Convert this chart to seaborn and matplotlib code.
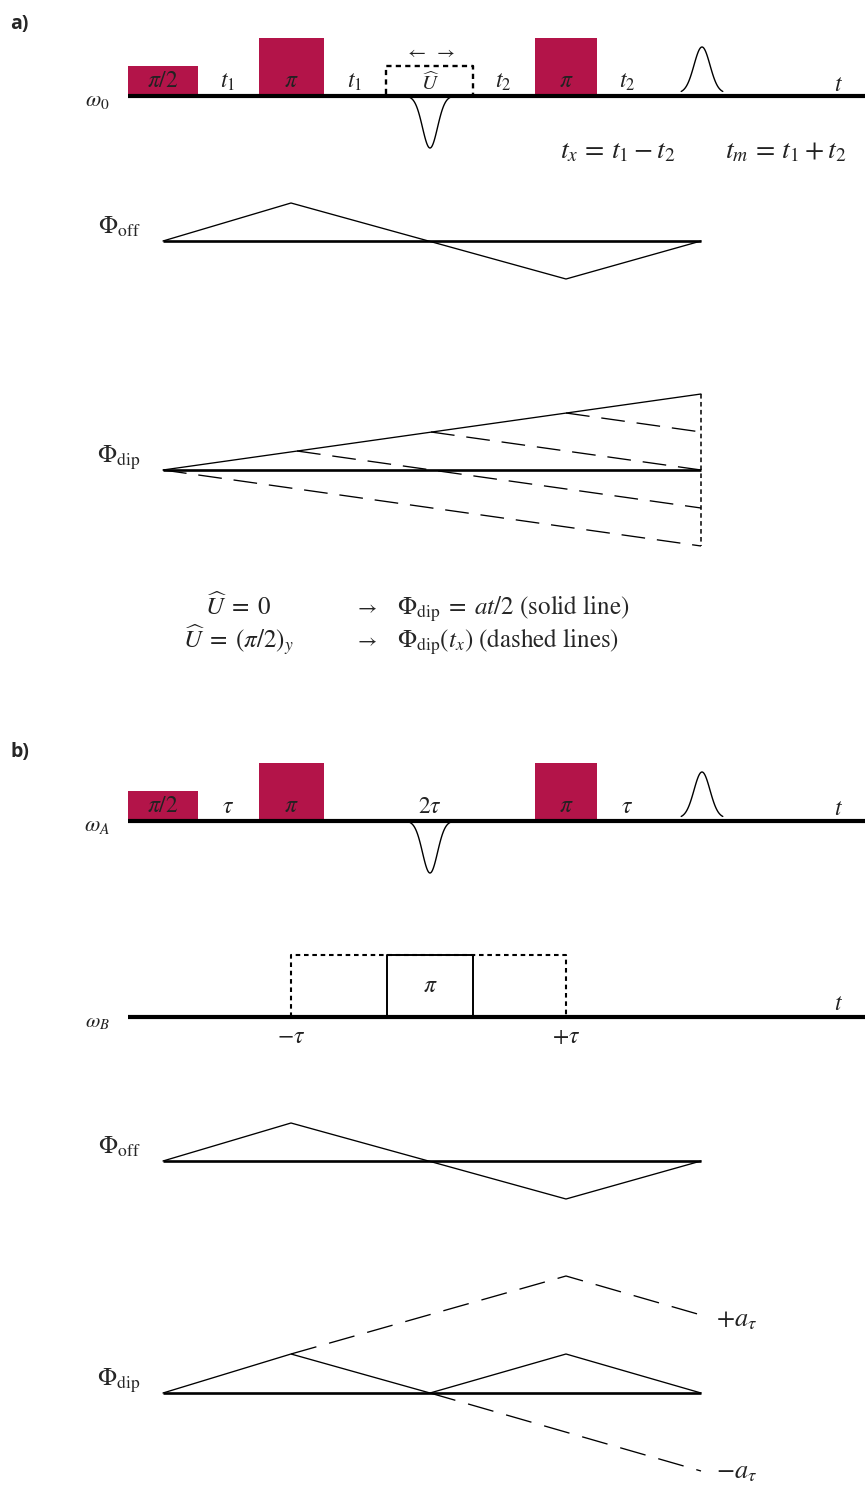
import numpy as np
import matplotlib
matplotlib.use("Agg")
import matplotlib.pyplot as plt
from matplotlib.patches import Rectangle
import seaborn as sns

sns.set_theme(style="white")
plt.rcParams["mathtext.fontset"] = "stix"
plt.rcParams["font.family"] = ["STIXGeneral", "DejaVu Sans"]

CRIMSON = "#B31449"
INK = "#222222"

# ---- time axis (shared by every row), in drawing units ----
T_START, T_END = 128, 865          # extent of the pulse-sequence axes
T_PHASE = [163, 701]               # extent of the phase evolution rows

# ---- pulse sequence (panel a and b share the same pulses) ----
pulse_left = [128, 259, 535]
pulse_width = [70, 65, 62]
pulse_height = [30, 58, 58]
pulse_labels = [r"$\pi/2$", r"$\pi$", r"$\pi$"]

delay_x_a = [228, 355, 503, 627]
delay_labels_a = [r"$t_1$", r"$t_1$", r"$t_2$", r"$t_2$"]
delay_x_b = [228, 430, 627]
delay_labels_b = [r"$\tau$", r"$2\tau$", r"$\tau$"]

# row baselines (vertical positions of each row)
BASE_A0, BASE_AOFF, BASE_ADIP = 96, 241, 470
BASE_BA, BASE_BB, BASE_BOFF, BASE_BDIP = 821, 1017, 1161, 1393

# ---- phase evolution ----
off_t = [163, 291, 566, 701]
off_phase = [0, 1, -1, 0]
OFF_UNIT = 38

dip_a_solid_t = [163, 701]
dip_a_solid_phase = [0, 4]
dip_a_knee_t = [163, 297, 431, 566]
dip_a_knee_phase = [0, 1, 2, 3]
dip_a_end_phase = [-4, -2, 0, 2]
DIP_A_UNIT = 19

dip_b_solid_t = [163, 291, 430, 566, 701]
dip_b_solid_phase = [0, 1, 0, 1, 0]
dip_b_up_t = [291, 566, 701]
dip_b_up_phase = [1, 3, 2]
dip_b_down_t = [430, 701]
dip_b_down_phase = [0, -2]
DIP_B_UNIT = 39

# ---- pump pulse window on omega_B ----
pump_window = [291, 566]
pump_pulse = [387, 473]
PUMP_H = 62

fig = plt.figure(figsize=(8.65, 14.86), dpi=100)
ax = fig.add_axes([0, 0, 1, 1])
ax.set_xlim(0, 865)
ax.set_ylim(1486, 0)
ax.axis("off")

LW_AXIS = 3.0
LW_BASE = 1.9
LW_THIN = 0.95
LONG_DASH = (18, 9)


def solid(x, y, lw=LW_THIN):
    sns.lineplot(x=x, y=y, ax=ax, color="black", lw=lw, estimator=None, sort=False)


def dashed(x, y, dashes=LONG_DASH, lw=LW_THIN):
    ln, = ax.plot(x, y, color="black", lw=lw)
    ln.set_dashes(dashes)


def gaussian(center, base, height, sigma, reach):
    x = np.linspace(center - reach * sigma, center + reach * sigma, 120)
    y = base - height * np.exp(-0.5 * ((x - center) / sigma) ** 2)
    solid(x, y, lw=1.0)


def pulse_row(base, delay_x, delay_labels, axis_label, tlabel_y):
    for left, w, h, lab in zip(pulse_left, pulse_width, pulse_height, pulse_labels):
        ax.add_patch(Rectangle((left, base - h), w, h, facecolor=CRIMSON,
                               edgecolor="none", zorder=2))
        ax.text(left + w / 2, base - 9, lab, ha="center", va="baseline",
                fontsize=17, color=INK, zorder=3)
    for x, lab in zip(delay_x, delay_labels):
        ax.text(x, base - 8, lab, ha="center", va="baseline", fontsize=17,
                color=INK)
    ax.plot([T_START, T_END], [base, base], color="black", lw=LW_AXIS,
            solid_capstyle="butt", zorder=4)
    ax.text(838, tlabel_y, r"$t$", ha="center", va="baseline", fontsize=17,
            color=INK)
    ax.text(97, base + 10, axis_label, ha="center", va="baseline", fontsize=16,
            color=INK)
    # refocusing echo and the negative lobe at the mid-point
    gaussian(702, base - 3, 46, 8.0, 2.6)
    gaussian(430, base, -52, 7.5, 2.7)


def phase_row(base, label):
    ax.plot(T_PHASE, [base, base], color="black", lw=LW_BASE,
            solid_capstyle="butt", zorder=3)
    ax.text(119, base - 7, label, ha="center", va="baseline", fontsize=18)


# ================= panel a =================
ax.text(10, 29, "a)", fontsize=14, fontweight="bold",
        family=["Open Sans", "DejaVu Sans"], va="baseline")
pulse_row(BASE_A0, delay_x_a, delay_labels_a, r"$\omega_0$", 91)

# variable element U between the two pi pulses
ux0, ux1, utop = 386, 473, 66
ln, = ax.plot([ux0, ux0, ux1, ux1], [BASE_A0 - 2, utop, utop, BASE_A0 - 2],
              color="black", lw=1.7)
ln.set_dashes((2.2, 1.8))
ax.text(430, BASE_A0 - 6, r"$\widehat{U}$", ha="center", va="baseline",
        fontsize=15, color=INK)
ax.text(430, 58, r"$\leftarrow\ \rightarrow$", ha="center", va="baseline",
        fontsize=14, color=INK)

ax.text(618, 158, r"$t_x\, =\, t_1 - t_2$", ha="center", va="baseline",
        fontsize=20, color=INK)
ax.text(786, 158, r"$t_m\, =\, t_1 + t_2$", ha="center", va="baseline",
        fontsize=20, color=INK)

# offset phase
phase_row(BASE_AOFF, r"$\Phi_{\rm off}$")
solid(off_t, [BASE_AOFF - OFF_UNIT * p for p in off_phase])

# dipolar phase
phase_row(BASE_ADIP, r"$\Phi_{\rm dip}$")
solid(dip_a_solid_t, [BASE_ADIP - DIP_A_UNIT * p for p in dip_a_solid_phase])
for tk, pk, pe in zip(dip_a_knee_t, dip_a_knee_phase, dip_a_end_phase):
    dashed([tk, T_PHASE[1]], [BASE_ADIP - DIP_A_UNIT * pk, BASE_ADIP - DIP_A_UNIT * pe])
ln, = ax.plot([T_PHASE[1], T_PHASE[1]],
              [BASE_ADIP - DIP_A_UNIT * max(dip_a_solid_phase),
               BASE_ADIP - DIP_A_UNIT * min(dip_a_end_phase)],
              color="black", lw=1.1)
ln.set_dashes((3, 2.2))

# legend of the two cases
ax.text(238, 615, r"$\widehat{U}\;=\;0$", ha="center", va="baseline",
        fontsize=18, color=INK)
ax.text(238, 648, r"$\widehat{U}\;=\;(\pi/2)_y$", ha="center", va="baseline",
        fontsize=18, color=INK)
ax.text(365, 613, r"$\rightarrow$", ha="center", va="baseline", fontsize=15)
ax.text(365, 646, r"$\rightarrow$", ha="center", va="baseline", fontsize=15)
ax.text(397, 615, r"$\Phi_{\rm dip}\;=\;at/2$ (solid line)", ha="left",
        va="baseline", fontsize=18)
ax.text(397, 648, r"$\Phi_{\rm dip}(t_x)$ (dashed lines)", ha="left",
        va="baseline", fontsize=18)

# ================= panel b =================
ax.text(10, 757, "b)", fontsize=14, fontweight="bold",
        family=["Open Sans", "DejaVu Sans"], va="baseline")
pulse_row(BASE_BA, delay_x_b, delay_labels_b, r"$\omega_A$", 815)

# pump channel
ax.plot([T_START, T_END], [BASE_BB, BASE_BB], color="black", lw=LW_AXIS,
        solid_capstyle="butt", zorder=4)
ax.text(97, BASE_BB + 10, r"$\omega_B$", ha="center", va="baseline", fontsize=15,
        color=INK)
ax.text(838, 1010, r"$t$", ha="center", va="baseline", fontsize=17, color=INK)
ptop = BASE_BB - PUMP_H
ln, = ax.plot([pump_window[0], pump_window[0], pump_window[1], pump_window[1]],
              [BASE_BB, ptop, ptop, BASE_BB], color="black", lw=1.5)
ln.set_dashes((2.2, 1.8))
ax.plot([pump_pulse[0], pump_pulse[0], pump_pulse[1], pump_pulse[1]],
        [BASE_BB, ptop, ptop, BASE_BB], color="black", lw=1.4, zorder=3)
ax.text(430, 992, r"$\pi$", ha="center", va="baseline", fontsize=17, color=INK)
ax.text(pump_window[0], 1043, r"$-\tau$", ha="center", va="baseline", fontsize=17,
        color=INK)
ax.text(pump_window[1], 1043, r"$+\tau$", ha="center", va="baseline", fontsize=17,
        color=INK)

# offset phase
phase_row(BASE_BOFF, r"$\Phi_{\rm off}$")
solid(off_t, [BASE_BOFF - OFF_UNIT * p for p in off_phase])

# dipolar phase
phase_row(BASE_BDIP, r"$\Phi_{\rm dip}$")
solid(dip_b_solid_t, [BASE_BDIP - DIP_B_UNIT * p for p in dip_b_solid_phase])
dashed(dip_b_up_t, [BASE_BDIP - DIP_B_UNIT * p for p in dip_b_up_phase], dashes=(20, 10))
dashed(dip_b_down_t, [BASE_BDIP - DIP_B_UNIT * p for p in dip_b_down_phase], dashes=(20, 10))
ax.text(716, 1326, r"$+a_\tau$", ha="left", va="baseline", fontsize=19,
        color=INK)
ax.text(716, 1478, r"$-a_\tau$", ha="left", va="baseline", fontsize=19,
        color=INK)

fig.savefig("out.png", dpi=100, facecolor="white")
